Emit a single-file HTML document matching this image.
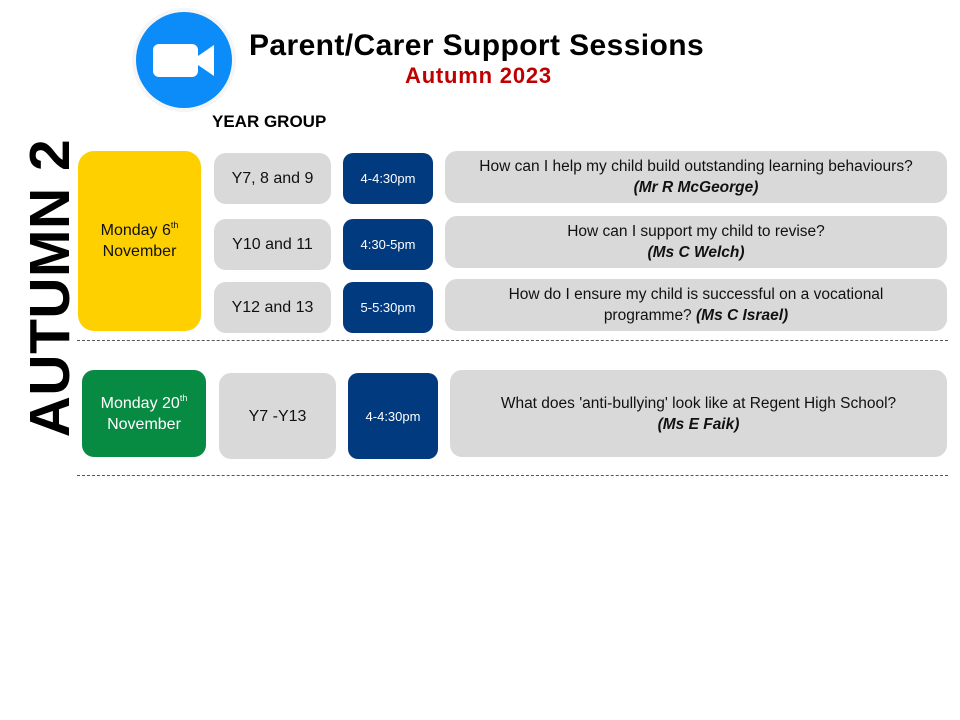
<!DOCTYPE html>
<html><head><meta charset="utf-8"><style>
body{margin:0;width:960px;height:720px;background:#fff;position:relative;overflow:hidden;font-family:"Liberation Sans",sans-serif;}
.a{position:absolute;box-sizing:border-box;display:flex;align-items:center;justify-content:center;text-align:center;border-radius:12px;font-size:16px;line-height:21px;color:#111;}
.a>div{width:100%;}
.g{background:#d9d9d9;}
.b{background:#023a80;color:#fff;font-size:13px;border-radius:10px;}
.q{background:#d9d9d9;font-size:15.5px;line-height:21px;}
.dash{position:absolute;left:77px;width:871px;border-top:1px dashed #555;height:0;}
sup{font-size:9px;vertical-align:7px;line-height:0;}
</style></head><body>
<div style="position:absolute;left:132px;top:8px;width:104px;height:104px;border-radius:50%;background:#f5f5f5;"></div>
<div style="position:absolute;left:136px;top:12px;width:96px;height:96px;border-radius:50%;background:#0b8cf9;"></div>
<div style="position:absolute;left:153px;top:44px;width:45px;height:33px;border-radius:6px;background:#fff;"></div>
<svg style="position:absolute;left:196px;top:44px" width="20" height="33"><polygon points="2,12 18,1 18,32 2,21" fill="#fff"/></svg>
<div style="position:absolute;left:249px;top:28px;font-weight:bold;font-size:30px;line-height:36px;color:#000;white-space:nowrap;letter-spacing:0.4px">Parent/Carer Support Sessions</div>
<div style="position:absolute;left:405px;top:62px;font-weight:bold;font-size:22px;line-height:27px;color:#c00000;white-space:nowrap;letter-spacing:0.8px">Autumn 2023</div>
<div style="position:absolute;left:212px;top:111px;font-weight:bold;font-size:17px;line-height:22px;color:#000;white-space:nowrap">YEAR GROUP</div>
<div style="position:absolute;left:-100px;top:263px;width:300px;height:50px;transform:rotate(-90deg);font-weight:bold;font-size:57px;line-height:50px;text-align:center;white-space:nowrap;color:#000;letter-spacing:0.5px">AUTUMN 2</div>

<div class="a" style="left:78px;top:151px;width:123px;height:180px;background:#ffd000;border-radius:16px;"><div>Monday 6<sup>th</sup><br>November</div></div>
<div class="a g" style="left:214px;top:153px;width:117px;height:51px;"><div>Y7, 8 and 9</div></div>
<div class="a g" style="left:214px;top:219px;width:117px;height:51px;"><div>Y10 and 11</div></div>
<div class="a g" style="left:214px;top:282px;width:117px;height:51px;"><div>Y12 and 13</div></div>
<div class="a b" style="left:343px;top:153px;width:90px;height:51px;"><div>4-4:30pm</div></div>
<div class="a b" style="left:343px;top:219px;width:90px;height:51px;"><div>4:30-5pm</div></div>
<div class="a b" style="left:343px;top:282px;width:90px;height:51px;"><div>5-5:30pm</div></div>
<div class="a q" style="left:445px;top:151px;width:502px;height:52px;"><div>How can I help my child build outstanding learning behaviours?<br><b><i>(Mr R McGeorge)</i></b></div></div>
<div class="a q" style="left:445px;top:216px;width:502px;height:52px;"><div>How can I support my child to revise?<br><b><i>(Ms C Welch)</i></b></div></div>
<div class="a q" style="left:445px;top:279px;width:502px;height:52px;"><div>How do I ensure my child is successful on a vocational<br>programme? <b><i>(Ms C Israel)</i></b></div></div>
<div class="dash" style="top:340px"></div>

<div class="a" style="left:82px;top:370px;width:124px;height:87px;background:#078a42;color:#fff;"><div>Monday 20<sup>th</sup><br>November</div></div>
<div class="a g" style="left:219px;top:373px;width:117px;height:86px;"><div>Y7 -Y13</div></div>
<div class="a b" style="left:348px;top:373px;width:90px;height:86px;"><div>4-4:30pm</div></div>
<div class="a q" style="left:450px;top:370px;width:497px;height:87px;"><div>What does 'anti-bullying' look like at Regent High School?<br><b><i>(Ms E Faik)</i></b></div></div>
<div class="dash" style="top:475px"></div>
</body></html>
